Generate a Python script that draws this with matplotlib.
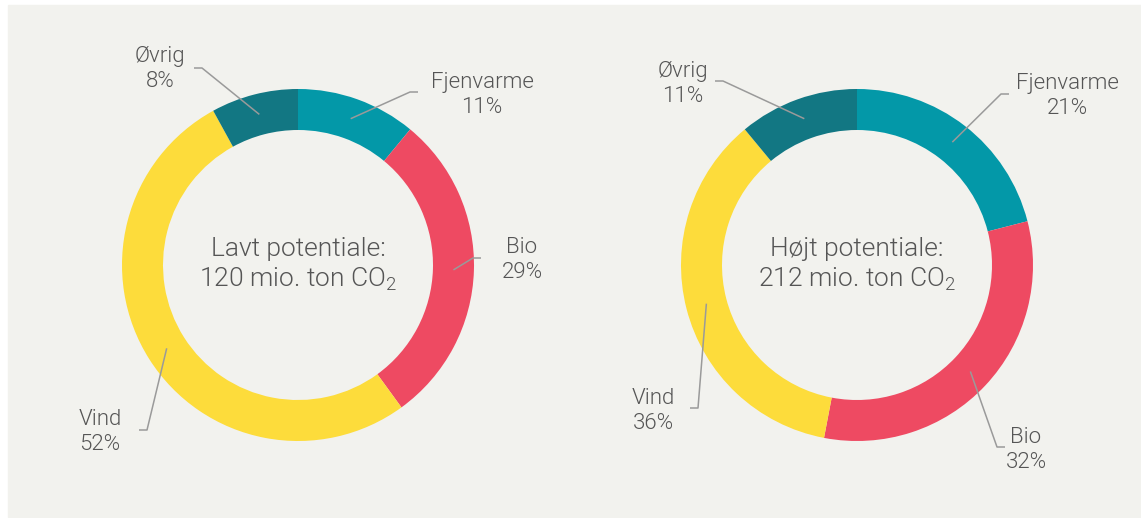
import matplotlib.pyplot as plt
import matplotlib.patches as mpatches
import numpy as np

plt.rcParams['font.family'] = ['Roboto', 'DejaVu Sans']
plt.rcParams['font.weight'] = 300
plt.rcParams['mathtext.default'] = 'regular'

categories = ['Fjenvarme', 'Bio', 'Vind', 'Øvrig']
lavt_pct = [11, 29, 52, 8]
hoejt_pct = [21, 32, 36, 11]
titles = ['Lavt potentiale:\n120 mio. ton CO$_2$', 'Højt potentiale:\n212 mio. ton CO$_2$']
colors = ['#0398a8', '#ee4a62', '#fddc3b', '#127783']

W, H = 1141, 518
fig = plt.figure(figsize=(W / 100, H / 100), dpi=100)
ax = fig.add_axes([0, 0, 1, 1])
ax.set_xlim(0, W)
ax.set_ylim(H, 0)
ax.set_aspect('equal')
ax.axis('off')

ax.add_patch(mpatches.Rectangle((8, 5), W - 8, 512, color='#f2f2ee', zorder=0))

R, ring = 176, 41
centers = [(298, 265), (857, 265)]
# elbow point, stub direction and label centre for each category (layout only)
elbows = [
    {'Fjenvarme': ((410, 92), 1, (482, 95)), 'Bio': ((473, 258), 1, (522, 260)),
     'Vind': ((147, 430), -1, (100, 432)), 'Øvrig': ((202, 68), -1, (160, 69))},
    {'Fjenvarme': ((1001, 94), 1, (1067, 96)), 'Bio': ((997, 447), 1, (1026, 450)),
     'Vind': ((698, 408), -1, (653, 411)), 'Øvrig': ((723, 81), -1, (683, 84))},
]

for (cx, cy), pct, title, lay in zip(centers, [lavt_pct, hoejt_pct], titles, elbows):
    # y axis is inverted, so flip the direction of the pie
    ax.pie(pct, colors=colors, startangle=-90, counterclock=True, radius=R,
           center=(cx, cy), wedgeprops=dict(width=ring, linewidth=0), frame=True)
    ax.text(cx, cy, title, ha='center', va='center', fontsize=19,
            color='#555555', linespacing=1.27)
    cum = 0
    for cat, p in zip(categories, pct):
        mid = np.deg2rad(90 - (cum + p / 2) / 100 * 360)
        cum += p
        rm = R - ring / 2
        sx, sy = cx + rm * np.cos(mid), cy - rm * np.sin(mid)
        (ex, ey), d, (lx, ly) = lay[cat]
        ax.plot([sx, ex, ex + 8 * d], [sy, ey, ey], color='#9a9a9a', lw=1.1,
                solid_capstyle='butt', zorder=5)
        ax.text(lx, ly, f'{cat}\n{p}%', ha='center', va='center', fontsize=16,
                color='#555555', linespacing=1.2)

ax.set_xlim(0, W)
ax.set_ylim(H, 0)
ax.axis('off')
fig.savefig('out.png', dpi=100, facecolor='white')
